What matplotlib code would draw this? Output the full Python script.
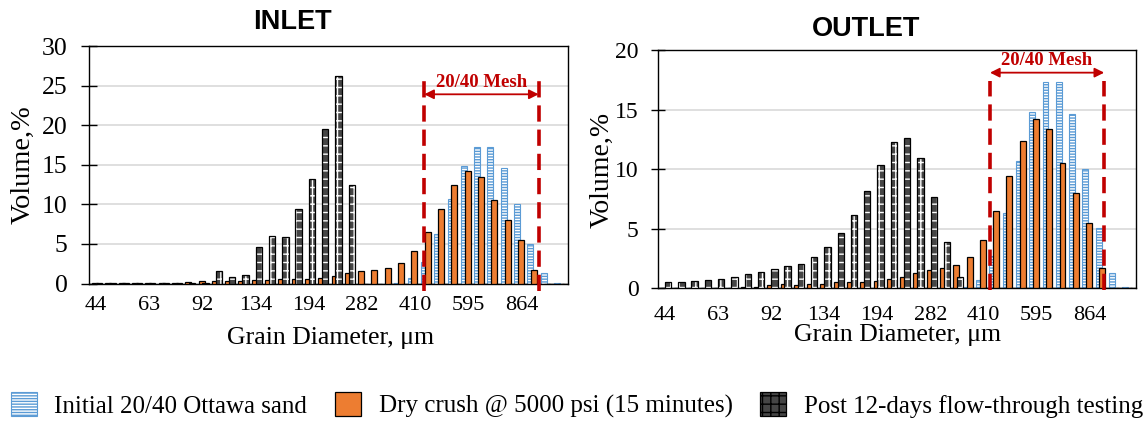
import numpy as np
import matplotlib.pyplot as plt
from matplotlib.patches import Patch

# grain-size bins (um); only every 4th one is labelled on the axis
SIZES = [44, 48, 53, 58, 63, 69, 76, 84, 92, 101, 111, 122,
         134, 147, 161, 177, 194, 213, 234, 257, 282, 310, 340, 373,
         410, 450, 494, 542, 595, 653, 717, 787, 864, 948, 1041, 1143]

# volume % per bin
INITIAL = [0, 0, 0, 0, 0, 0, 0, 0, 0, 0, 0, 0,
           0, 0, 0, 0, 0, 0, 0, 0, 0, 0, 0, 0.08,
           0.72, 2.75, 6.3, 10.65, 14.8, 17.3, 17.3, 14.6, 10.05, 5.05, 1.32, 0.1]
DRY_CRUSH = [0.02, 0.02, 0.02, 0.03, 0.04, 0.06, 0.1, 0.15, 0.28, 0.32, 0.31, 0.34,
             0.4, 0.5, 0.56, 0.56, 0.58, 0.74, 0.95, 1.27, 1.56, 1.72, 1.95, 2.6,
             4.05, 6.45, 9.45, 12.4, 14.2, 13.4, 10.5, 8.0, 5.45, 1.73, 0, 0]
POST_INLET = [0.1, 0.1, 0.1, 0.1, 0.1, 0.1, 0.1, 0.1, 0.1, 1.56, 0.8, 1.05,
              4.64, 6.0, 5.82, 9.37, 13.25, 19.5, 26.2, 12.5, 0, 0, 0, 0,
              0, 0, 0, 0, 0, 0, 0, 0, 0, 0, 0, 0]
POST_OUTLET = [0.53, 0.53, 0.59, 0.68, 0.79, 0.93, 1.18, 1.4, 1.63, 1.83, 2.08, 2.6,
               3.49, 4.6, 6.13, 8.16, 10.38, 12.24, 12.63, 10.97, 7.7, 3.88, 0.98, 0.05,
               0, 0, 0, 0, 0, 0, 0, 0, 0, 0, 0, 0]

LEGEND = ["Initial 20/40 Ottawa sand", "Dry crush @ 5000 psi (15 minutes)",
          "Post 12-days flow-through testing"]

SERIF = "Liberation Serif"
SANS = "Liberation Sans"
BLUE = "#5B9BD5"
ORANGE = "#ED7D31"
RED = "#C00000"

fig = plt.figure(figsize=(11.48, 4.21), dpi=100)
ax1 = fig.add_axes([0.0775, 0.3266, 0.4172, 0.5641])
ax2 = fig.add_axes([0.5732, 0.3152, 0.4164, 0.566])

x = np.arange(len(SIZES))


def draw(ax, post, ymax, yfs, xpad, ypad, tlen, mesh):
    ax.bar(x - 0.32, INITIAL, 0.45, color="white", edgecolor=BLUE,
           hatch="------", lw=0.8, zorder=2)
    ax.bar(x - 0.04, DRY_CRUSH, 0.45, color=ORANGE, edgecolor="black",
           lw=0.9, zorder=3)
    ax.bar(x + 0.26, post, 0.48, color="#454545", edgecolor="white",
           hatch="++", lw=0, zorder=4)
    ax.bar(x + 0.26, post, 0.48, fill=False, edgecolor="black", lw=0.9, zorder=5)

    ax.set_xlim(-0.5, len(SIZES) - 0.5)
    ax.set_ylim(0, ymax)
    ax.set_yticks(np.arange(0, ymax + 1, 5))
    ax.set_xticks(x[::4])
    ax.set_xticklabels([str(s) for s in SIZES[::4]])
    ax.tick_params(axis="x", length=0, pad=xpad, labelsize=16)
    ax.tick_params(axis="y", direction="inout", length=tlen, width=1,
                   pad=ypad, labelsize=yfs)
    for lab in ax.get_xticklabels() + ax.get_yticklabels():
        lab.set_fontfamily(SERIF)
    ax.grid(axis="y", color="#D9D9D9", lw=1.2, zorder=0)
    ax.set_axisbelow(True)
    for s in ax.spines.values():
        s.set_linewidth(1.0)

    # 20/40 mesh window
    xl, xr, ytop, ybot, yarr, ytxt = mesh
    for xv in (xl, xr):
        ax.plot([xv, xv], [ybot, ytop], color=RED, lw=2.6,
                ls=(0, (4.5, 2.2)), clip_on=False, zorder=6)
    ax.annotate("", xy=(xr, yarr), xytext=(xl, yarr),
                arrowprops=dict(arrowstyle="<|-|>", color=RED, lw=1.3,
                                mutation_scale=14, shrinkA=0, shrinkB=0),
                zorder=6)
    ax.text((xl + xr) / 2, ytxt, "20/40 Mesh", color=RED, fontsize=13.5,
            fontweight="bold", family=SERIF, ha="center", va="center", zorder=6)


draw(ax1, POST_INLET, 30, 18.5, 9, 10, 11, (24.7, 33.3, 25.8, -1.0, 23.9, 25.4))
draw(ax2, POST_OUTLET, 20, 17, 13, 9, 10, (24.5, 33.1, 17.4, -0.15, 18.1, 19.1))

fig.text(292 / 1148, 1 - 22 / 421, "INLET", family=SANS, fontweight="bold",
         fontsize=19.5, ha="center", va="center")
fig.text(866 / 1148, 1 - 29 / 421, "OUTLET", family=SANS, fontweight="bold",
         fontsize=19.5, ha="center", va="center")
fig.text(23 / 1148, 1 - 165 / 421, "Volume,%", family=SERIF, fontsize=20.5,
         rotation=90, ha="center", va="center")
fig.text(602 / 1148, 1 - 170 / 421, "Volume,%", family=SERIF, fontsize=20,
         rotation=90, ha="center", va="center")
fig.text(330 / 1148, 1 - 338 / 421, "Grain Diameter, \u03bcm", family=SERIF,
         fontsize=18.5, ha="center", va="center")
fig.text(897 / 1148, 1 - 335 / 421, "Grain Diameter, \u03bcm", family=SERIF,
         fontsize=18.5, ha="center", va="center")

handles = [Patch(facecolor="white", edgecolor=BLUE, hatch="------", lw=0.8),
           Patch(facecolor=ORANGE, edgecolor="black", lw=0.9),
           Patch(facecolor="#454545", edgecolor="black", hatch="++", lw=0.9)]
fig.legend(handles, LEGEND, loc="center", bbox_to_anchor=(0.5025, 1 - 405 / 421),
           ncol=3, frameon=False, prop={"family": SERIF, "size": 18},
           handlelength=1.05, handleheight=1.1, handletextpad=0.7,
           columnspacing=1.1)

fig.savefig("out.png", dpi=100)
